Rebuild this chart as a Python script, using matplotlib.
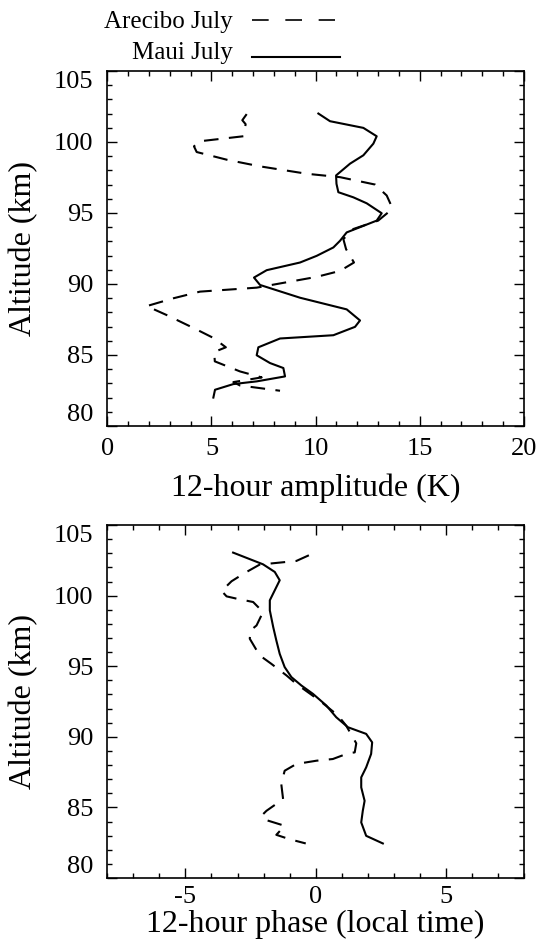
import matplotlib
matplotlib.use('Agg')
import matplotlib.pyplot as plt
from matplotlib.lines import Line2D

plt.rcParams['font.family'] = ['Liberation Serif', 'DejaVu Serif']

# 12-hour amplitude (K) vs altitude (km)
maui_amp = [10.13, 10.69, 12.29, 12.93, 12.77, 12.29, 11.65, 10.98, 11.0, 11.09, 11.81, 12.45,
            13.17, 12.93, 11.49, 11.17, 10.85, 10.05, 9.25, 7.65, 7.04, 7.33, 9.25, 11.49, 12.13,
            11.89, 10.85, 8.29, 7.25, 7.17, 7.81, 8.45, 8.53, 7.17, 6.05, 5.17, 5.09]
maui_amp_alt = [102.0, 101.46, 100.99, 100.4, 99.88, 99.06, 98.47, 97.64, 97.05, 96.46, 96.1, 95.68,
                94.98, 94.46, 93.63, 93.04, 92.57, 91.98, 91.51, 90.97, 90.45, 89.93, 89.03, 88.21, 87.43,
                86.98, 86.39, 86.16, 85.54, 84.98, 84.43, 84.08, 83.49, 83.14, 82.95, 82.55, 82.0]

arecibo_amp = [6.69, 6.48, 6.64, 6.53, 4.45, 4.16, 4.29, 5.73, 7.33, 9.57, 11.17, 12.85, 13.41, 13.65,
               13.49, 13.0, 11.81, 11.33, 11.46, 11.84, 11.17, 10.05, 7.17, 4.45, 3.17, 1.89, 2.85,
               4.29, 5.09, 5.69, 5.13, 5.16, 6.37, 7.41, 6.05, 6.37, 8.29]
arecibo_amp_alt = [101.96, 101.53, 101.25, 100.4, 100.05, 99.69, 99.29, 98.75, 98.28, 97.76, 97.52, 97.0,
                   96.23, 95.45, 95.05, 94.46, 93.87, 93.16, 92.45, 91.51, 90.92, 90.5, 89.74, 89.46,
                   88.99, 88.44, 87.81, 86.79, 86.2, 85.54, 85.21, 84.55, 83.84, 83.42, 83.09, 82.85, 82.48]

# 12-hour phase (local time) vs altitude (km)
maui_ph = [-3.17, -2.02, -1.57, -1.38, -1.57, -1.76, -1.76, -1.63, -1.51, -1.38, -1.19, -0.93, -0.55,
           -0.10, 0.41, 0.79, 1.24, 1.94, 2.17, 2.13, 1.94, 1.75, 1.75, 1.88, 1.81, 1.75, 1.94, 2.58]
maui_ph_alt = [103.05, 102.22, 101.68, 101.09, 100.38, 99.67, 98.96, 97.78, 96.83, 95.88, 94.94, 94.23,
               93.64, 93.04, 92.22, 91.39, 90.68, 90.21, 89.61, 88.79, 87.84, 87.13, 86.42, 85.47,
               84.76, 83.94, 82.99, 82.45]

arecibo_ph = [-0.26, -0.74, -2.15, -2.72, -3.23, -3.61, -3.42, -3.04, -2.4, -2.02, -2.27, -2.5, -2.53,
              -2.15, -1.70, -1.12, -0.74, 0.15, 0.86, 1.17, 1.56, 1.5, 1.24, 0.66, 0.03, -0.74, -1.19,
              -1.32, -1.25, -1.89, -2.08, -1.89, -1.19, -1.51, -1.0, -0.38]
arecibo_ph_alt = [102.86, 102.46, 102.2, 101.61, 101.02, 100.33, 99.95, 99.79, 99.55, 98.84, 97.89, 97.54,
                  96.95, 95.77, 95.17, 94.35, 93.75, 92.57, 91.51, 90.8, 89.54, 88.9, 88.83, 88.43,
                  88.31, 88.08, 87.6, 86.66, 85.59, 84.76, 84.41, 84.1, 83.7, 83.06, 82.75, 82.45]

yticks = [80, 85, 90, 95, 100, 105]

fig = plt.figure(figsize=(5.36, 9.42), dpi=100)
ax1 = fig.add_axes([0.2002, 0.5478, 0.7774, 0.3769])
ax2 = fig.add_axes([0.2002, 0.0679, 0.7774, 0.3747])

dash = (7, 5)
ax1.plot(arecibo_amp, arecibo_amp_alt, color='black', lw=1.5, dashes=dash)
ax1.plot(maui_amp, maui_amp_alt, color='black', lw=1.5)
ax2.plot(arecibo_ph, arecibo_ph_alt, color='black', lw=1.5, dashes=dash)
ax2.plot(maui_ph, maui_ph_alt, color='black', lw=1.5)

ax1.set_xlim(0, 20)
ax1.set_xticks([0, 5, 10, 15, 20])
ax1.set_xticks(range(0, 21), minor=True)
ax2.set_xlim(-8, 8)
ax2.set_xticks([-5, 0, 5])
ax2.set_xticklabels(['-5', '0', '5'])
ax2.set_xticks(range(-8, 9), minor=True)

for ax in (ax1, ax2):
    ax.set_ylim(80, 105)
    ax.set_yticks(yticks)
    ax.set_yticks(range(80, 106), minor=True)
    ax.tick_params(which='both', direction='in', top=True, right=True, width=1.0, labelsize=19)
    ax.tick_params(which='major', length=7)
    ax.tick_params(which='minor', length=3.5)
    ax.tick_params(axis='y', pad=10)
    for s in ax.spines.values():
        s.set_linewidth(1.2)
    ax.set_ylabel('Altitude (km)', fontsize=23)
    ax.yaxis.set_label_coords(-0.166, 0.5)
    labs = ax.get_yticklabels()
    labs[0].set_verticalalignment('bottom')
    labs[-1].set_verticalalignment('top')

ax1.tick_params(axis='x', pad=9)
ax2.tick_params(axis='x', pad=6)
ax1.set_xlabel('12-hour amplitude (K)', fontsize=23)
ax1.xaxis.set_label_coords(0.5, -0.133)
ax2.set_xlabel('12-hour phase (local time)', fontsize=23)
ax2.xaxis.set_label_coords(0.5, -0.090)

# legend at top of figure
W, H = 536.0, 942.0
fig.text(233 / W, 1 - 22 / H, 'Arecibo July', ha='right', va='center', fontsize=18)
fig.text(233 / W, 1 - 53 / H, 'Maui July', ha='right', va='center', fontsize=18)
fig.add_artist(Line2D([252 / W, 335 / W], [1 - 20 / H, 1 - 20 / H], color='black', lw=1.2,
                      dashes=(10, 10), transform=fig.transFigure))
fig.add_artist(Line2D([252 / W, 340 / W], [1 - 57 / H, 1 - 57 / H], color='black', lw=1.5,
                      transform=fig.transFigure))

fig.savefig('out.png', dpi=100)
